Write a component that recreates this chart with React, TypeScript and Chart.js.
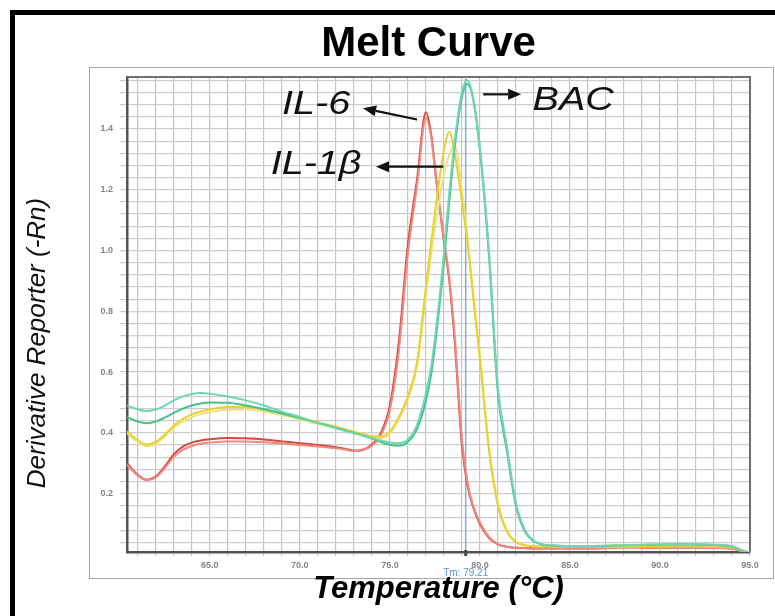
import React, { useEffect, useRef } from 'react';
import { Chart, registerables } from 'chart.js';

Chart.register(...registerables);

// ---- data ----
const temps = [60.4, 61, 61.5, 62, 62.5, 63, 63.5, 64, 64.5, 65, 66, 67, 68, 69, 70, 71, 72, 72.5, 73, 73.5, 74, 74.5, 75, 75.5, 76, 76.5, 77, 77.3, 77.6, 78, 78.3, 78.6, 79, 79.3, 79.6, 80, 80.5, 81, 81.5, 82, 82.5, 83, 83.5, 84, 85, 86, 87, 88, 89, 90, 91, 92, 93, 94, 94.5, 95];

const il6Rep1 = [0.300, 0.262, 0.246, 0.256, 0.290, 0.330, 0.355, 0.368, 0.375, 0.379, 0.383, 0.382, 0.378, 0.372, 0.366, 0.360, 0.353, 0.348, 0.342, 0.345, 0.362, 0.400, 0.490, 0.700, 1.020, 1.230, 1.455, 1.380, 1.220, 1.030, 0.900, 0.700, 0.360, 0.230, 0.160, 0.100, 0.055, 0.033, 0.025, 0.022, 0.021, 0.020, 0.020, 0.020, 0.020, 0.020, 0.021, 0.024, 0.023, 0.022, 0.022, 0.022, 0.022, 0.020, 0.012, 0.005];
const il6Rep2 = [0.295, 0.259, 0.244, 0.253, 0.284, 0.321, 0.344, 0.357, 0.364, 0.368, 0.372, 0.372, 0.369, 0.365, 0.360, 0.355, 0.349, 0.345, 0.340, 0.343, 0.358, 0.392, 0.475, 0.670, 0.990, 1.210, 1.435, 1.370, 1.215, 1.040, 0.910, 0.720, 0.380, 0.240, 0.165, 0.105, 0.058, 0.034, 0.025, 0.021, 0.020, 0.019, 0.019, 0.019, 0.019, 0.019, 0.020, 0.022, 0.022, 0.021, 0.021, 0.021, 0.021, 0.019, 0.011, 0.005];

const il1bRep1 = [0.405, 0.376, 0.362, 0.370, 0.395, 0.424, 0.446, 0.461, 0.470, 0.477, 0.485, 0.485, 0.477, 0.465, 0.450, 0.435, 0.420, 0.412, 0.404, 0.396, 0.389, 0.388, 0.405, 0.452, 0.520, 0.630, 0.880, 1.030, 1.170, 1.330, 1.390, 1.320, 1.160, 1.030, 0.860, 0.640, 0.343, 0.160, 0.075, 0.040, 0.030, 0.027, 0.026, 0.026, 0.025, 0.025, 0.025, 0.026, 0.027, 0.028, 0.028, 0.028, 0.027, 0.025, 0.015, 0.006];
const il1bRep2 = [0.398, 0.369, 0.356, 0.364, 0.388, 0.416, 0.438, 0.452, 0.461, 0.468, 0.476, 0.477, 0.470, 0.459, 0.445, 0.430, 0.416, 0.408, 0.400, 0.392, 0.385, 0.383, 0.398, 0.443, 0.510, 0.615, 0.850, 0.990, 1.110, 1.250, 1.315, 1.348, 1.200, 1.050, 0.880, 0.660, 0.360, 0.170, 0.080, 0.042, 0.031, 0.027, 0.026, 0.026, 0.025, 0.025, 0.025, 0.026, 0.027, 0.027, 0.027, 0.027, 0.026, 0.024, 0.014, 0.006];

const bacRep1 = [0.490, 0.477, 0.472, 0.477, 0.490, 0.507, 0.520, 0.528, 0.531, 0.529, 0.520, 0.507, 0.490, 0.470, 0.452, 0.432, 0.415, 0.407, 0.399, 0.391, 0.383, 0.375, 0.368, 0.366, 0.378, 0.425, 0.530, 0.620, 0.760, 0.990, 1.190, 1.360, 1.520, 1.560, 1.510, 1.340, 1.000, 0.550, 0.355, 0.170, 0.080, 0.045, 0.033, 0.030, 0.028, 0.028, 0.029, 0.030, 0.032, 0.033, 0.034, 0.034, 0.032, 0.028, 0.015, 0.005];
const bacRep2 = [0.452, 0.437, 0.432, 0.437, 0.450, 0.466, 0.480, 0.490, 0.497, 0.500, 0.499, 0.490, 0.478, 0.464, 0.449, 0.433, 0.417, 0.408, 0.400, 0.391, 0.381, 0.370, 0.361, 0.358, 0.370, 0.412, 0.505, 0.595, 0.735, 0.960, 1.160, 1.340, 1.505, 1.548, 1.505, 1.330, 0.985, 0.530, 0.340, 0.160, 0.075, 0.043, 0.032, 0.029, 0.027, 0.027, 0.028, 0.030, 0.031, 0.032, 0.033, 0.033, 0.031, 0.027, 0.014, 0.005];

const TM = 79.21;
const X_MIN = 60.4;
const X_MAX = 95;
const Y_MIN = 0.008;
const Y_MAX = 1.571;

const xLabelValues = [65, 70, 75, 80, 85, 90, 95];
const yLabelValues = [0.2, 0.4, 0.6, 0.8, 1.0, 1.2, 1.4];
const X_GRID_STEP = 1;
const Y_GRID_STEP = 0.04;

// annotation text + arrows, anchored in data coordinates
const annotations = [
  { text: 'IL-6', tx: 70.9, ty: 1.448, from: [76.51, 1.431], to: [73.51, 1.468] },
  { text: 'IL-1\u03B2', tx: 70.9, ty: 1.253, from: [77.96, 1.276], to: [74.23, 1.276] },
  { text: 'BAC', tx: 85.18, ty: 1.464, from: [80.18, 1.514], to: [82.29, 1.514] },
];

const FONT = '"Liberation Sans", Arial, Helvetica, sans-serif';

const xGrid: number[] = [];
for (let v = 61; v <= X_MAX + 1e-9; v += X_GRID_STEP) xGrid.push(Math.round(v * 100) / 100);
const yGrid: number[] = [];
for (let i = 1; i * Y_GRID_STEP <= Y_MAX; i++) yGrid.push(Math.round(i * Y_GRID_STEP * 1000) / 1000);

const decorPlugin = {
  id: 'decor',
  afterLayout(chart: any) {
    // centre the title block where the reference has it
    const tb = chart.titleBlock;
    if (tb) {
      tb.left += 17;
    }
  },
  beforeDraw(chart: any) {
    const { ctx, width, height } = chart;
    ctx.save();
    ctx.fillStyle = '#ffffff';
    ctx.fillRect(0, 0, width, height);
    // inner light frame
    ctx.strokeStyle = '#a6a6a6';
    ctx.lineWidth = 1;
    ctx.strokeRect(89.5, 67.5, 684, 511);
    // outer black border
    ctx.strokeStyle = '#000000';
    ctx.lineWidth = 5;
    ctx.strokeRect(12.5, 12.5, width + 60, height + 60);
    // y-axis title
    ctx.translate(38, 343);
    ctx.rotate(-Math.PI / 2);
    ctx.font = `italic 26px ${FONT}`;
    ctx.fillStyle = '#111111';
    ctx.textAlign = 'center';
    ctx.textBaseline = 'middle';
    ctx.fillText('Derivative Reporter (-Rn)', 0, 0);
    ctx.restore();
  },
  beforeDatasetsDraw(chart: any) {
    const { ctx, chartArea: a } = chart;
    ctx.save();
    ctx.strokeStyle = '#707070';
    ctx.lineWidth = 2;
    ctx.beginPath();
    ctx.moveTo(a.left, a.top);
    ctx.lineTo(a.right, a.top);
    ctx.lineTo(a.right, a.bottom);
    ctx.stroke();
    ctx.restore();
  },
  afterDatasetsDraw(chart: any) {
    const { ctx, chartArea: a } = chart;
    const xs = chart.scales.x;
    const ys = chart.scales.y;
    ctx.save();
    const tmX = xs.getPixelForValue(TM);
    ctx.fillStyle = '#4a4a4a';
    ctx.fillRect(tmX - 1.5, a.bottom - 2, 3, 6);
    ctx.font = `10px ${FONT}`;
    ctx.fillStyle = '#5d8fcb';
    ctx.textAlign = 'center';
    ctx.textBaseline = 'middle';
    ctx.fillText('Tm: ' + TM.toFixed(2), tmX, a.bottom + 21);

    for (const an of annotations) {
      const px = xs.getPixelForValue(an.tx);
      const py = ys.getPixelForValue(an.ty);
      ctx.save();
      ctx.translate(px, py);
      ctx.scale(1.2, 1);
      ctx.font = `italic 33px ${FONT}`;
      ctx.fillStyle = '#111111';
      ctx.textAlign = 'center';
      ctx.textBaseline = 'alphabetic';
      ctx.fillText(an.text, 0, 0);
      ctx.restore();

      const x1 = xs.getPixelForValue(an.from[0]);
      const y1 = ys.getPixelForValue(an.from[1]);
      const x2 = xs.getPixelForValue(an.to[0]);
      const y2 = ys.getPixelForValue(an.to[1]);
      const ang = Math.atan2(y2 - y1, x2 - x1);
      const hl = 13;
      const hw = 5.5;
      const bx = x2 - hl * Math.cos(ang);
      const by = y2 - hl * Math.sin(ang);
      ctx.strokeStyle = '#111111';
      ctx.fillStyle = '#111111';
      ctx.lineWidth = 2.2;
      ctx.beginPath();
      ctx.moveTo(x1, y1);
      ctx.lineTo(bx, by);
      ctx.stroke();
      ctx.beginPath();
      ctx.moveTo(x2, y2);
      ctx.lineTo(bx + hw * Math.sin(ang), by - hw * Math.cos(ang));
      ctx.lineTo(bx - hw * Math.sin(ang), by + hw * Math.cos(ang));
      ctx.closePath();
      ctx.fill();
    }
    ctx.restore();
  },
};

function series(label: string, ys: number[], color: string, width = 2) {
  return {
    label,
    data: temps.map((t, i) => ({ x: t, y: ys[i] })),
    borderColor: color,
    backgroundColor: color,
    borderWidth: width,
    pointRadius: 0,
    pointHoverRadius: 0,
    cubicInterpolationMode: 'monotone' as const,
    fill: false,
  };
}

export default function App() {
  const ref = useRef<HTMLCanvasElement>(null);

  useEffect(() => {
    if (!ref.current) return;
    const chart = new Chart(ref.current, {
      type: 'line',
      data: {
        datasets: [
          series('BAC rep 1', bacRep1, '#72d5b0'),
          series('BAC rep 2', bacRep2, '#46c286'),
          series('IL-1\u03B2 rep 1', il1bRep1, '#e6d235'),
          series('IL-1\u03B2 rep 2', il1bRep2, '#f0e27e'),
          series('IL-6 rep 2', il6Rep2, '#ec8a80'),
          series('IL-6 rep 1', il6Rep1, '#d9463e'),
          {
            label: 'Tm',
            data: [
              { x: TM, y: Y_MIN },
              { x: TM, y: Y_MAX },
            ],
            borderColor: '#86acd9',
            backgroundColor: '#86acd9',
            borderWidth: 1.5,
            pointRadius: 0,
            pointHoverRadius: 0,
            tension: 0,
            fill: false,
          },
        ],
      },
      options: {
        responsive: false,
        devicePixelRatio: 1,
        animation: false,
        events: [],
        layout: { padding: { left: 90, right: 25, top: 0, bottom: 0 } },
        plugins: {
          legend: { display: false },
          tooltip: { enabled: false },
          title: {
            display: true,
            text: 'Melt Curve',
            color: '#000000',
            font: { size: 42, weight: 'bold', family: FONT, lineHeight: 1 },
            padding: { top: 23, bottom: 12 },
          },
        },
        scales: {
          x: {
            type: 'linear',
            min: X_MIN,
            max: X_MAX,
            afterBuildTicks: (s: any) => {
              s.ticks = xGrid.map((v) => ({ value: v }));
            },
            afterFit: (s: any) => {
              s.height = 64;
            },
            ticks: {
              autoSkip: false,
              maxRotation: 0,
              minRotation: 0,
              padding: 4,
              color: '#858585',
              font: { size: 9, family: FONT, weight: 'bold' },
              callback: (v: any) => (xLabelValues.some((l) => Math.abs(l - v) < 1e-6) ? Number(v).toFixed(1) : ''),
            },
            grid: { color: '#c4c4c4', lineWidth: 1.2, drawTicks: true, tickLength: 4 },
            border: { display: true, color: '#555555', width: 2.5 },
            title: {
              display: true,
              text: 'Temperature (\u00B0C)',
              color: '#000000',
              font: { size: 31, weight: 'bold', style: 'italic', family: FONT, lineHeight: 1.2 },
              padding: { top: 0, bottom: 8 },
            },
          },
          y: {
            type: 'linear',
            min: Y_MIN,
            max: Y_MAX,
            afterBuildTicks: (s: any) => {
              s.ticks = yGrid.map((v) => ({ value: v }));
            },
            afterFit: (s: any) => {
              s.width = 37;
            },
            ticks: {
              autoSkip: false,
              padding: 7,
              color: '#858585',
              font: { size: 9, family: FONT, weight: 'bold' },
              callback: (v: any) => (yLabelValues.some((l) => Math.abs(l - v) < 1e-6) ? Number(v).toFixed(1) : ''),
            },
            grid: { color: '#cdcdcd', lineWidth: 1.2, drawTicks: true, tickLength: 7 },
            border: { display: true, color: '#555555', width: 2.5 },
          },
        },
      },
      plugins: [decorPlugin],
    } as any);
    return () => chart.destroy();
  }, []);

  return (
    <div style={{ position: 'absolute', left: 0, top: 0, width: 775, height: 616 }}>
      <canvas ref={ref} width={775} height={616} style={{ display: 'block', width: 775, height: 616 }} />
    </div>
  );
}
